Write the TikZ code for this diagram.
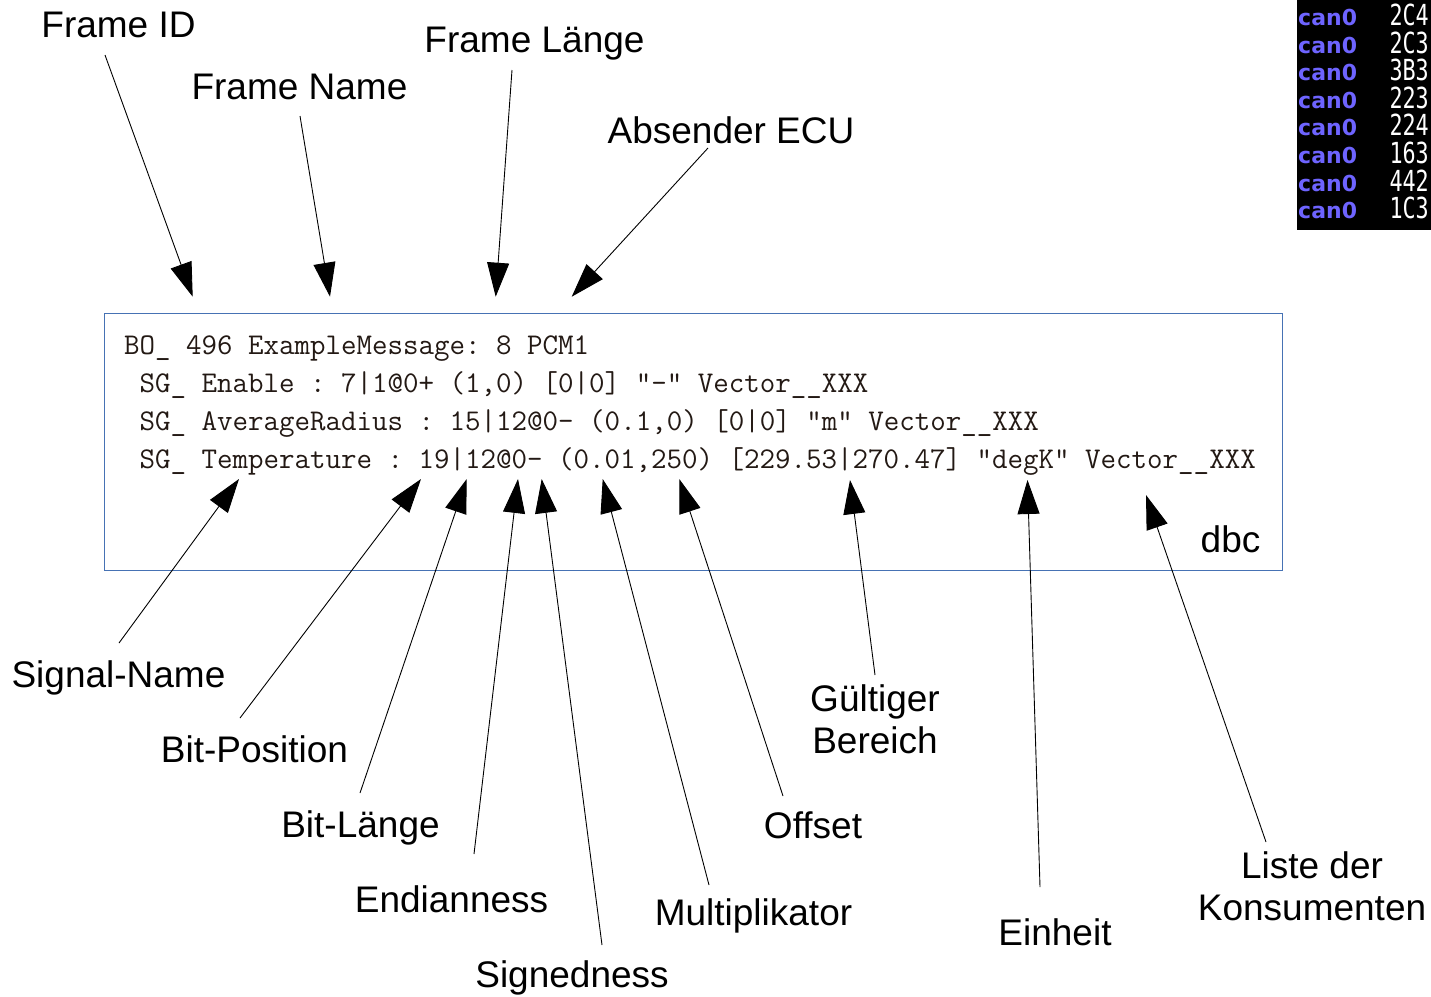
\documentclass[tikz,border=0pt]{standalone}
\usepackage{fontspec}
\newfontfamily\lblfamily{Liberation Sans}
\newfontfamily\canfamily{DejaVu Sans}
\newfontfamily\termfamily[FakeStretch=0.75]{DejaVu Sans Mono}
\usetikzlibrary{arrows.meta}
\definecolor{boxblue}{RGB}{70,114,180}
\definecolor{codecol}{RGB}{35,25,20}
\definecolor{canblue}{RGB}{110,100,255}
\tikzset{
  lbl/.style={font=\lblfamily\fontsize{37}{42}\selectfont, inner sep=0pt, anchor=base},
  lbltwo/.style={font=\lblfamily\fontsize{37}{42}\selectfont, inner sep=0pt, anchor=south, align=center},
  codeline/.style={font=\ttfamily\frenchspacing\fontsize{30.1}{38}\selectfont, text=codecol, inner sep=0pt, anchor=base west},
  canlbl/.style={font=\canfamily\bfseries\fontsize{22}{24}\selectfont, text=canblue, inner sep=0pt, anchor=base west},
  hexlbl/.style={font=\termfamily\fontsize{29}{30}\selectfont, text=white, inner sep=0pt, anchor=base east},
  pointer/.style={line width=0.9pt, -{Triangle[length=34pt,width=22pt]}}
}
\begin{document}
\begin{tikzpicture}[x=1pt,y=-1pt]
\useasboundingbox (0,0) rectangle (1431,996);
\fill[white] (0,0) rectangle (1431,996);

% terminal snippet
\node (term) [fill=black, inner sep=0pt, minimum width=134pt, minimum height=230pt, anchor=north west] at (1297,0) {};
\foreach \h [count=\i from 0] in {2C4,2C3,3B3,223,224,163,442,1C3} {
  \node (can\i) [canlbl] at (1298,25.5+27.6*\i) {can0};
  \node (hex\i) [hexlbl] at (1429,25.5+27.6*\i) {\h};
}

% dbc box
\node (dbcbox) [draw=boxblue, line width=1pt, minimum width=1178pt, minimum height=257pt, inner sep=0pt, anchor=north west] at (104,313) {};
\node (l1) [codeline] at (124,354) {BO\_ 496 ExampleMessage: 8 PCM1};
\node (l2) [codeline] at (139.5,392) {SG\_ Enable : 7|1@0+ (1,0) [0|0] "-" Vector\_\_XXX};
\node (l3) [codeline] at (139.5,430) {SG\_ AverageRadius : 15|12@0- (0.1,0) [0|0] "m" Vector\_\_XXX};
\node (l4) [codeline] at (139.5,468) {SG\_ Temperature : 19|12@0- (0.01,250) [229.53|270.47] "degK" Vector\_\_XXX};
\node (dbc) [lbl] at (1230.5,552) {dbc};

% top labels
\node (fid) [lbl] at (118.5,37) {Frame ID};
\node (fname) [lbl] at (299.5,99) {Frame Name};
\node (flen) [lbl] at (534.5,52) {Frame Länge};
\node (fecu) [lbl] at (731,143) {Absender ECU};

% bottom labels
\node (sig) [lbl] at (118.5,687) {Signal-Name};
\node (bpos) [lbl] at (254.5,762) {Bit-Position};
\node (blen) [lbl] at (360.5,837) {Bit-Länge};
\node (endian) [lbl] at (451.5,912) {Endianness};
\node (signed) [lbl] at (572,987) {Signedness};
\node (mult) [lbl] at (753.5,925) {Multiplikator};
\node (offs) [lbl] at (813,838) {Offset};
\node (range) [lbltwo] at (875,754) {Gültiger\\Bereich};
\node (unit) [lbl] at (1055,945) {Einheit};
\node (cons) [lbltwo] at (1312,921) {Liste der\\Konsumenten};

% connector end points
\coordinate (fid-s) at (105,55);      \coordinate (fid-t) at (192.7,296.7);
\coordinate (fname-s) at (300,116);   \coordinate (fname-t) at (330,296.7);
\coordinate (flen-s) at (512,70);     \coordinate (flen-t) at (495.7,296.7);
\coordinate (fecu-s) at (708,148);    \coordinate (fecu-t) at (571.7,296.7);
\coordinate (sig-s) at (119,643);     \coordinate (sig-t) at (239,479);
\coordinate (bpos-s) at (240,718);    \coordinate (bpos-t) at (421,479);
\coordinate (blen-s) at (360,793);    \coordinate (blen-t) at (466.7,479);
\coordinate (endian-s) at (474,854);  \coordinate (endian-t) at (518,479);
\coordinate (signed-s) at (602,945);  \coordinate (signed-t) at (541.7,479);
\coordinate (mult-s) at (709,885);    \coordinate (mult-t) at (602.7,479);
\coordinate (offs-s) at (783,796);    \coordinate (offs-t) at (679.3,479);
\coordinate (range-s) at (875,675);   \coordinate (range-t) at (850,480);
\coordinate (unit-s) at (1040,887);   \coordinate (unit-t) at (1027.5,480);
\coordinate (cons-s) at (1266,842);   \coordinate (cons-t) at (1146,495);

\foreach \n in {fid,fname,flen,fecu,sig,bpos,blen,endian,signed,mult,offs,range,unit,cons}
  \draw[pointer] (\n-s) -- (\n-t);
\end{tikzpicture}
\end{document}
